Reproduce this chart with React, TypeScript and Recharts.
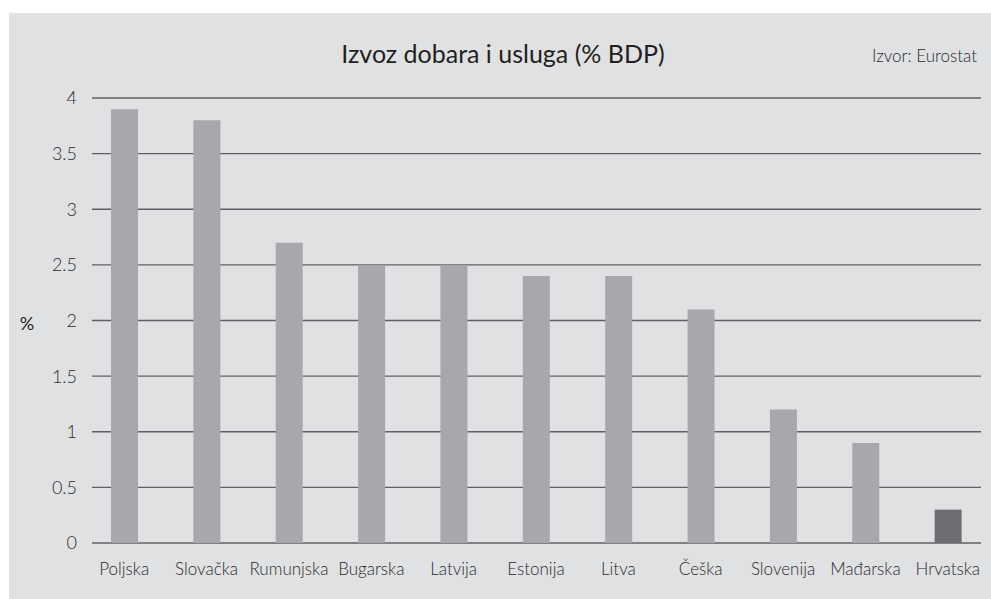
import React from 'react'
import { BarChart, Bar, XAxis, YAxis, CartesianGrid, Cell } from 'recharts'

const countries = ['Poljska', 'Slovačka', 'Rumunjska', 'Bugarska', 'Latvija', 'Estonija', 'Litva', 'Češka', 'Slovenija', 'Mađarska', 'Hrvatska']
const exportsShare = [3.9, 3.8, 2.7, 2.5, 2.5, 2.4, 2.4, 2.1, 1.2, 0.9, 0.3]
const yTicks = [0, 0.5, 1, 1.5, 2, 2.5, 3, 3.5, 4]
const highlight = 'Hrvatska'

const data = countries.map((name, i) => ({ name, value: exportsShare[i] }))

const font = 'Lato, "Noto Sans", sans-serif'

// grid lines run a bit inside the plot area, like in the original
const GridLine = (props: any) => (
  <line
    key={props.key}
    x1={props.x1 + 9}
    x2={props.x2 - 8}
    y1={props.y1}
    y2={props.y2}
    stroke="#5f6063"
    strokeWidth={1.3}
  />
)

export default function App() {
  return (
    <div style={{ position: 'absolute', left: 9, top: 13, width: 982, height: 586, background: '#e0e1e3', fontFamily: font }}>
      <BarChart
        width={982}
        height={586}
        data={data}
        margin={{ top: 85, right: 2, bottom: 26, left: 0 }}
        barSize={27}
      >
        <CartesianGrid vertical={false} horizontal={GridLine} />
        <XAxis
          dataKey="name"
          axisLine={false}
          tickLine={false}
          tickMargin={14}
          height={30}
          interval={0}
          tick={{ fill: '#2b2b2d', fontSize: 17, fontFamily: font, fontWeight: 300 }}
        />
        <YAxis
          width={74}
          domain={[0, 4]}
          ticks={yTicks}
          axisLine={false}
          tickLine={false}
          tickMargin={0}
          tick={{ fill: '#2b2b2d', fontSize: 18, fontFamily: font, fontWeight: 300 }}
        />
        <Bar dataKey="value" isAnimationActive={false}>
          {data.map((d) => (
            <Cell key={d.name} fill={d.name === highlight ? '#6d6e71' : '#a7a8ab'} />
          ))}
        </Bar>
      </BarChart>
      <svg width={982} height={586} style={{ position: 'absolute', left: 0, top: 0, pointerEvents: 'none' }}>
        <text x={494} y={50} textAnchor="middle" fontSize={25} fill="#231f20" fontFamily={font}>
          Izvoz dobara i usluga (% BDP)
        </text>
        <text x={968} y={49} textAnchor="end" fontSize={17} fontWeight={300} fill="#2b2b2d" fontFamily={font}>
          Izvor: Eurostat
        </text>
        <text x={18} y={317} textAnchor="middle" fontSize={18} fill="#231f20" fontFamily={font}>
          %
        </text>
      </svg>
    </div>
  )
}
